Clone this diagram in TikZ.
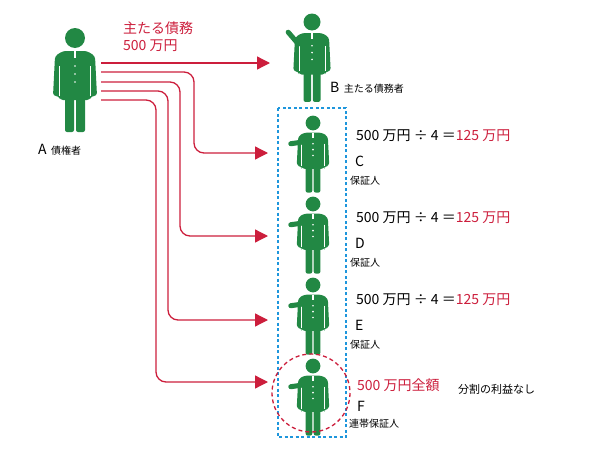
\documentclass[tikz,border=0pt]{standalone}
\usepackage{fontspec}
\setmainfont{Noto Sans CJK JP}
\usetikzlibrary{arrows.meta}
\definecolor{pg}{RGB}{34,136,68}
\definecolor{rd}{RGB}{204,30,60}
\definecolor{bl}{RGB}{30,150,220}
\tikzset{
  conn/.style={rd,line width=1.3pt,rounded corners=10pt,-{Triangle[length=13pt,width=13pt]}},
  lbl/.style={anchor=west,inner sep=0pt,font=\fontsize{10}{12}\selectfont},
  big/.style={anchor=west,inner sep=0pt,font=\fontsize{14}{16}\selectfont},
}
\newcommand\mypers[4]{%
 \begin{scope}[shift={(#1,#2)},x=#3pt,y=-#3pt]
    \fill[pg] (0,0) circle [x radius=10, y radius=10];
    \fill[pg,rounded corners=3pt] (-12,13) -- (12,13) -- (20,18) -- (22,58) -- (16,58) -- (15,62) -- (-15,62) -- (-16,58) -- (-22,58) -- (-20,18) -- cycle;
    \fill[pg,rounded corners=2pt] (-10,55) rectangle (-1,94);
    \fill[pg,rounded corners=2pt] (1,55) rectangle (10,94);
    \draw[white,line width=0.6pt] (-15.5,28) -- (-15.5,58) (15.5,28) -- (15.5,58);
    \fill[white] (-1,13) rectangle (1,20);
    \fill[white] (0,28) circle (0.9pt) (0,36) circle (0.9pt) (0,44) circle (0.9pt);
    \ifnum#4=1 \draw[pg,line width=5pt,line cap=round] (-16,26) -- (-30,28);\fi
    \ifnum#4=2 \draw[pg,line width=5pt,line cap=round] (-16,26) -- (-28,12);\fi
 \end{scope}}
\begin{document}
\begin{tikzpicture}[x=1pt,y=-1pt]
\useasboundingbox (0,0) rectangle (600,450);
\mypers{75}{38}{1}{0}
\mypers{312}{22}{0.85}{2}
\foreach \y in {123,204,285,366}{
 \mypers{313}{\y}{0.74}{1}
}
\coordinate (a1) at (101,63);\coordinate (a2) at (101,72);\coordinate (a3) at (101,82);
\coordinate (a4) at (101,91);\coordinate (a5) at (101,100);
\coordinate (b) at (270,63);\coordinate (c) at (268,153);\coordinate (d) at (268,236);
\coordinate (e) at (268,320);\coordinate (f) at (268,382);
\draw[conn] (a1) -- (b);
\draw[conn] (a2) -| (194,153) -- (c);
\draw[conn] (a3) -| (180,236) -- (d);
\draw[conn] (a4) -| (168,320) -- (e);
\draw[conn] (a5) -| (156,382) -- (f);
\draw[bl,line width=1.3pt,dash pattern=on 3pt off 2.5pt] (278,108) rectangle (346,437);
\draw[rd,line width=1.3pt,dash pattern=on 4pt off 3pt] (311,393) circle (39);
\node[big,rd] (t1) at (123,28) {主たる債務};
\node[big,rd] (t2) at (123,46) {500 万円};
\node[lbl] (lb) at (330,88) {{\fontsize{14}{14}\selectfont B}\ \ 主たる債務者};
\node[lbl] (la) at (38,150) {{\fontsize{14}{14}\selectfont A}\ \ 債権者};
\foreach \y/\L in {136/C,218/D,300/E}{
 \node[big] at (356,\y) {500 万円 ÷ 4 ＝\textcolor{rd}{125 万円}};
 \node[anchor=west,inner sep=0pt,font=\fontsize{14}{14}\selectfont] at (355,\y+25) {\L};
 \node[lbl] at (350,\y+45) {保証人};
}
\node[big,rd] (f1) at (357,385) {500 万円全額};
\node[anchor=west,inner sep=0pt,font=\fontsize{11}{12}\selectfont] (f2) at (458,389) {分割の利益なし};
\node[anchor=west,inner sep=0pt,font=\fontsize{14}{14}\selectfont] (f3) at (357,406) {F};
\node[lbl] (f4) at (349,424) {連帯保証人};
\end{tikzpicture}
\end{document}
